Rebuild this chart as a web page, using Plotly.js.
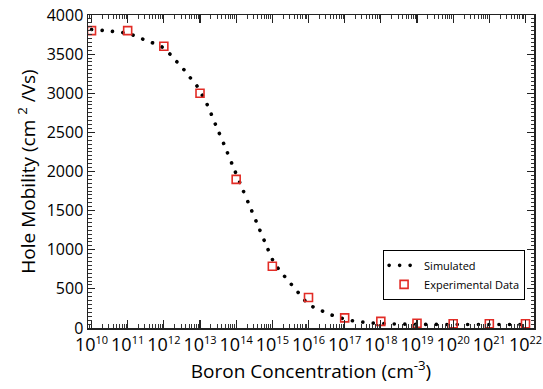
<!DOCTYPE html>
<html>
<head>
<meta charset="utf-8">
<script src="https://cdn.plot.ly/plotly-3.0.1.min.js"></script>
<style>
  html, body { margin: 0; padding: 0; background: #fff; }
  #chart { width: 543px; height: 389px; }
  path.js-line { stroke-linecap: round; }
</style>
</head>
<body>
<div id="chart"></div>
<script>
// Simulated curve (log10 of boron concentration, hole mobility)
const simLogN = [10.0, 10.5, 10.8, 11.07, 11.36, 11.65, 11.91, 12.13, 12.34, 12.54, 12.72, 12.91,
                 13.2, 13.43, 13.66, 13.89, 14.12, 14.35, 14.58, 14.81, 15.03, 15.23, 15.43, 15.63,
                 15.82, 16.0, 16.28, 16.56, 16.83, 17.12, 17.42, 17.72, 18.3, 19.0, 20.0, 21.0, 22.0];
const simMobility = [3815, 3795, 3779, 3757, 3702, 3651, 3604, 3519, 3412, 3310, 3204, 3097,
                     2854, 2599, 2351, 2091, 1836, 1585, 1333, 1081, 850, 719, 610, 499,
                     397, 300, 239, 179, 137, 100, 80, 65, 52, 47, 45, 45, 45];

// Experimental data
const expLogN = [10, 11, 12, 13, 14, 15, 16, 17, 18, 19, 20, 21, 22];
const expMobility = [3800, 3800, 3600, 3000, 1900, 790, 390, 130, 85, 60, 55, 55, 55];

// Tick labels
const xTickExponents = [10, 11, 12, 13, 14, 15, 16, 17, 18, 19, 20, 21, 22];
const yTickValues = [0, 500, 1000, 1500, 2000, 2500, 3000, 3500, 4000];

const pow10 = e => Math.pow(10, e);
const FONT = "Open Sans, Liberation Sans, sans-serif";

const traces = [
  {
    name: 'Simulated',
    x: simLogN.map(pow10),
    y: simMobility,
    mode: 'lines',
    line: { color: '#000', width: 3.6, dash: '0.1px,10.4px', shape: 'spline', smoothing: 0.6 },
    hoverinfo: 'x+y'
  },
  {
    name: 'Experimental Data',
    x: expLogN.map(pow10),
    y: expMobility,
    mode: 'markers',
    marker: { symbol: 'square-open', size: 8, color: 'rgb(226,44,38)', line: { width: 1.6, color: 'rgb(226,44,38)' } }
  }
];

const layout = {
  width: 543, height: 389,
  margin: { l: 88, r: 9, t: 15, b: 61 },
  paper_bgcolor: '#fff', plot_bgcolor: '#fff',
  font: { family: FONT, color: '#000' },
  showlegend: true,
  legend: {
    x: 0.98, y: 0.09, xanchor: 'right', yanchor: 'bottom',
    bordercolor: '#000', borderwidth: 1, bgcolor: '#fff',
    font: { size: 11, family: FONT, color: '#000' },
    tracegroupgap: 0
  },
  xaxis: {
    type: 'log',
    range: [9.903, 22.235],
    tickmode: 'array',
    tickvals: xTickExponents.map(pow10),
    ticktext: xTickExponents.map(e => '10<sup><span style="font-size:11px">' + e + '</span></sup>'),
    ticks: 'inside', ticklen: 8, tickwidth: 1.2, tickcolor: '#222',
    minor: { ticks: 'inside', ticklen: 4, dtick: 'D1', tickwidth: 1, tickcolor: '#333' },
    mirror: 'ticks',
    showline: true, linecolor: '#222', linewidth: 1.5,
    showgrid: false, zeroline: false,
    tickfont: { size: 18, family: FONT, color: '#000' },
    title: { text: 'Boron Concentration (cm<sup>-3</sup>)', font: { size: 19, family: FONT, color: '#000' }, standoff: 4 }
  },
  yaxis: {
    range: [0, 4000],
    tickmode: 'array',
    tickvals: yTickValues,
    ticks: 'inside', ticklen: 7, tickwidth: 1.2, tickcolor: '#222',
    minor: { ticks: 'inside', ticklen: 3.5, dtick: 50, tickwidth: 1, tickcolor: '#333' },
    mirror: 'ticks',
    showline: true, linecolor: '#222', linewidth: 1.5,
    showgrid: false, zeroline: false,
    tickfont: { size: 16, family: FONT, color: '#000' },
    title: { text: 'Hole Mobility (cm <sup>2</sup> /Vs)', font: { size: 19, family: FONT, color: '#000' }, standoff: 6 }
  }
};

Plotly.newPlot('chart', traces, layout, { displayModeBar: false, staticPlot: true });
</script>
</body>
</html>
